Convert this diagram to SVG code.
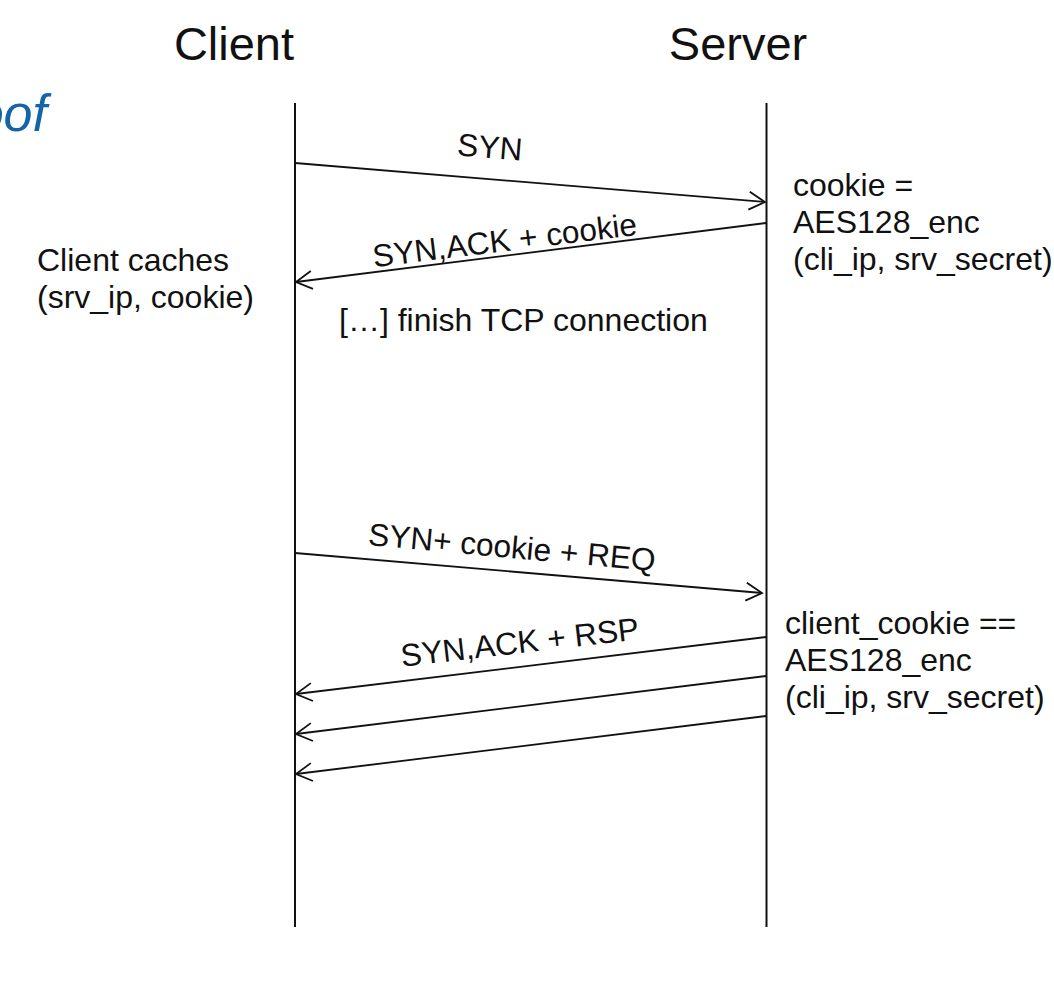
<svg xmlns="http://www.w3.org/2000/svg" width="1054" height="1002" viewBox="0 0 1054 1002">
<style>
  text { font-family: "Liberation Sans", Arial, sans-serif; fill: #111; }
  .title { font-size: 47px; text-anchor: middle; }
  .t { font-size: 32px; }
  .lbl { font-size: 31.6px; text-anchor: middle; }
  .life { stroke: #111; stroke-width: 2; fill: none; }
  .msg { stroke: #111; stroke-width: 1.8; fill: none; marker-end: url(#ah); }
  .slide { font-size: 52px; font-style: italic; fill: #1464a8; text-anchor: end; }
</style>
<defs>
  <marker id="ah" markerUnits="userSpaceOnUse" markerWidth="20" markerHeight="22" refX="17" refY="10" orient="auto">
    <path d="M1,1 L17,10 L1,19" fill="none" stroke="#111" stroke-width="1.8"/>
  </marker>
</defs>
<rect width="1054" height="1002" fill="#fff"/>
<text class="slide" x="47" y="131">oof</text>

<g id="client">
  <text class="title" x="234" y="60">Client</text>
  <line class="life" x1="295" y1="103" x2="295" y2="927"/>
</g>
<g id="server">
  <text class="title" x="738" y="60">Server</text>
  <line class="life" x1="766.5" y1="103" x2="766.5" y2="927"/>
</g>

<g id="client-note">
  <text class="t" x="37" y="271">Client caches</text>
  <text class="t" x="37" y="308">(srv_ip, cookie)</text>
</g>
<g id="server-note1">
  <text class="t" x="793" y="196">cookie =</text>
  <text class="t" x="793" y="233">AES128_enc</text>
  <text class="t" x="793" y="270">(cli_ip, srv_secret)</text>
</g>
<g id="finish">
  <text class="t" x="339" y="331">[…] finish TCP connection</text>
</g>
<g id="server-note2">
  <text class="t" x="785" y="634">client_cookie ==</text>
  <text class="t" x="785" y="671">AES128_enc</text>
  <text class="t" x="785" y="708">(cli_ip, srv_secret)</text>
</g>

<g id="connectors">
  <line class="msg" x1="295" y1="163" x2="765" y2="202"/>
  <line class="msg" x1="766" y1="223" x2="296" y2="282"/>
  <line class="msg" x1="295" y1="553" x2="762" y2="593"/>
  <line class="msg" x1="766" y1="637" x2="296" y2="694"/>
  <line class="msg" x1="766" y1="676" x2="296" y2="734"/>
  <line class="msg" x1="766" y1="716" x2="296" y2="774"/>
  <text class="lbl" transform="translate(489,158) rotate(4.7)">SYN</text>
  <text class="lbl" transform="translate(506,251) rotate(-7)">SYN,ACK + cookie</text>
  <text class="lbl" transform="translate(511,558) rotate(5.2)">SYN+ cookie + REQ</text>
  <text class="lbl" transform="translate(521,653) rotate(-6.6)">SYN,ACK + RSP</text>
</g>
</svg>
